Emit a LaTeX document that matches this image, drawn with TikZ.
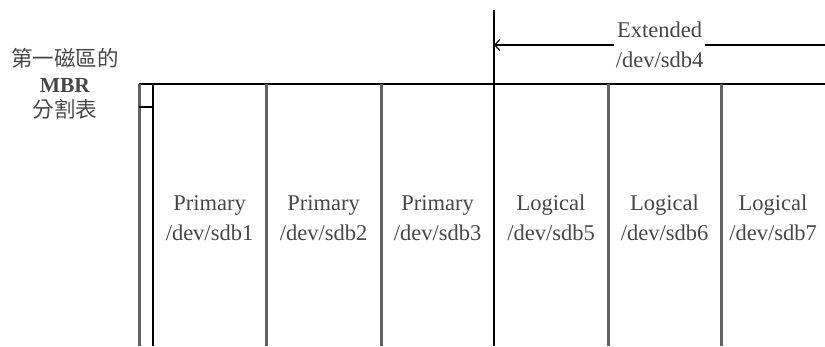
\documentclass[tikz,border=0pt]{standalone}
\usepackage{fontspec}
\setmainfont{Liberation Serif}
\newfontfamily\cjk{Noto Sans CJK TC}
\usetikzlibrary{arrows.meta, positioning}

\begin{document}
\begin{tikzpicture}[
      x=1pt, y=-1pt,
      part/.style={align=center, text=black!72, inner sep=2pt, font=\fontsize{22.5}{30}\selectfont},
      mbrlabel/.style={align=center, text=black!72, font=\fontsize{21.5}{25.5}\selectfont},
      divider/.style={draw=black!62, line width=3pt},
      rim/.style={draw=black, line width=1.5pt}
    ]
    \useasboundingbox (0,0) rectangle (825,346);

    % disk outline and MBR slot
    \coordinate (topL) at (139,84);
    \coordinate (topR) at (825,84);
    \draw[rim] (topL) -- (topR);
    \draw[divider] (139,84) -- (139,346);
    \draw[rim] (153,84) -- (153,346);
    \draw[rim] (139,107) -- (153,107);

    % partition borders
    \draw[divider] (266,84) -- (266,346);
    \draw[divider] (381,84) -- (381,346);
    \draw[rim, line width=1.2pt] (494,10) -- (494,346);
    \draw[divider] (608,84) -- (608,346);
    \draw[divider] (721,84) -- (721,346);

    \node[mbrlabel] (mbr) at (65,84) {{\cjk 第一磁區的}\\\textbf{MBR}\\{\cjk 分割表}};

    \node[part] (sdb1) at (209.5,218) {Primary\\/dev/sdb1};
    \node[part] (sdb2) at (323.5,218) {Primary\\/dev/sdb2};
    \node[part] (sdb3) at (437.5,218) {Primary\\/dev/sdb3};
    \node[part] (sdb5) at (551,218) {Logical\\/dev/sdb5};
    \node[part] (sdb6) at (664.5,218) {Logical\\/dev/sdb6};
    \node[part] (sdb7) at (773,218) {Logical\\/dev/sdb7};

    % extended partition span
    \coordinate (extL) at (494,45);
    \coordinate (extR) at (825,45);
    \draw[line width=1.2pt, -{Straight Barb[length=5pt, width=11pt]}] (extR) -- node[part, fill=white, midway] (sdb4) {Extended\\/dev/sdb4} (extL);
  \end{tikzpicture}
\end{document}
